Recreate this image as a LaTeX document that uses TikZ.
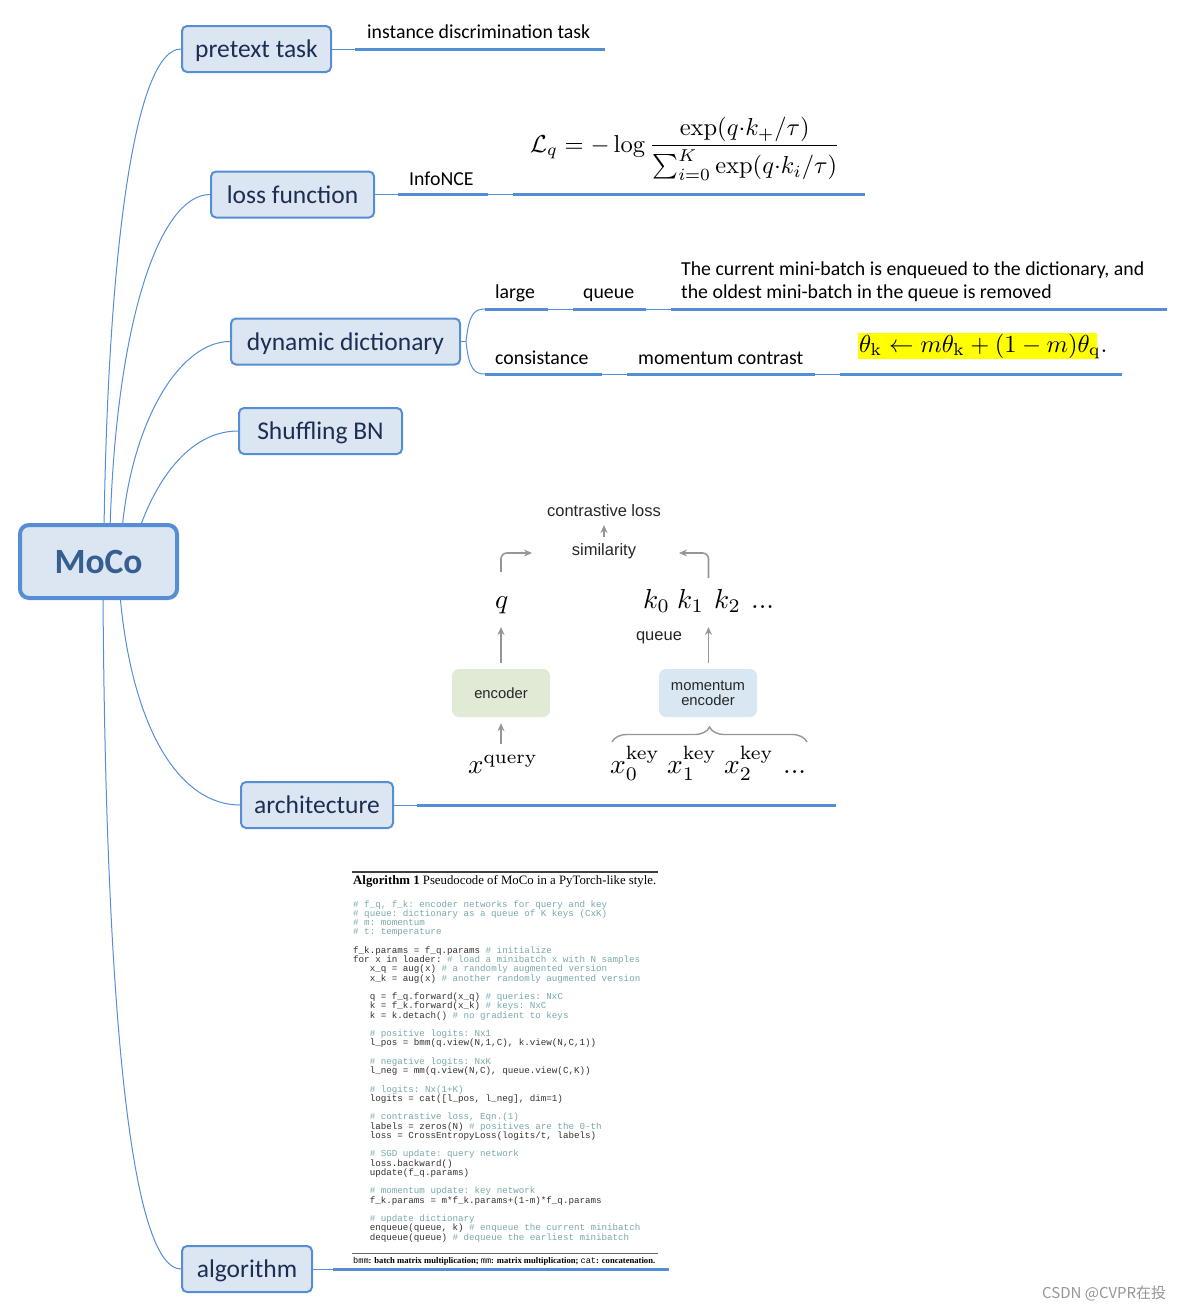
\documentclass[tikz,border=0pt]{standalone}
\usepackage[no-math]{fontspec}
\usepackage{graphicx}
\usepackage{amsmath}
\setmainfont{Carlito}
\setsansfont{Liberation Sans}
\setmonofont{Liberation Mono}
\newfontfamily\timesfont{Liberation Serif}
\newfontfamily\cjkfont{Noto Sans CJK SC}
\usetikzlibrary{arrows.meta,decorations.pathreplacing}
\pgfdeclarelayer{background}
\pgfsetlayers{background,main}
\definecolor{mmblue}{RGB}{85,142,213}
\definecolor{mmfill}{RGB}{220,230,242}
\definecolor{mmtext}{RGB}{28,46,84}
\definecolor{mocotext}{RGB}{54,95,145}
\definecolor{archgray}{RGB}{150,150,150}
\definecolor{encgreen}{RGB}{225,234,213}
\definecolor{encblue}{RGB}{217,231,242}
\definecolor{codegray}{RGB}{50,50,50}
\definecolor{commentc}{RGB}{120,168,172}
\definecolor{wmgray}{RGB}{150,150,150}
\definecolor{hlyellow}{RGB}{255,255,0}
\newcommand\cmt[1]{\textcolor{commentc}{#1}}
\newcommand\codeind{\hspace*{16.6pt}}
\newcommand\codefont{\fontsize{9.2}{9.25}\selectfont\ttfamily}
\tikzset{
  root/.style={draw=mmblue, line width=4pt, fill=mmfill, rounded corners=9pt,
    minimum width=157pt, minimum height=73pt, inner sep=0pt, text=mocotext,
    font=\fontsize{35.5}{40}\selectfont\bfseries},
  topic/.style={draw=mmblue, line width=2pt, fill=mmfill, rounded corners=5pt,
    minimum height=46pt, inner sep=0pt, text=mmtext, font=\fontsize{25.5}{30}\selectfont,
    text height=17pt, text depth=0pt},
  conn/.style={draw=mmblue, line width=1pt},
  uline/.style={draw=mmblue, line width=3pt},
  sub/.style={inner sep=0pt, anchor=base west, font=\fontsize{19.8}{23}\selectfont, text=black},
  arch/.style={inner sep=0pt, font=\sffamily\fontsize{16.5}{19}\selectfont, text=black!85},
  garrow/.style={draw=archgray, line width=1.6pt, -{Stealth[length=8pt,width=7pt]}},
  encbox/.style={rounded corners=7pt, minimum width=98pt, minimum height=48pt, inner sep=0pt,
    font=\sffamily\fontsize{14.8}{16}\selectfont, align=center, text=black!85},
  mathnode/.style={inner sep=0pt, anchor=base west},
}
\begin{document}
\begin{tikzpicture}[x=1pt,y=-1pt]
\useasboundingbox (0,0) rectangle (1185,1310);

% ---------- root and topics ----------
\node[root] (moco) at (98.5,561.5) {MoCo};
\node[topic, minimum width=149pt] (pretext) at (256.5,49) {pretext task};
\node[topic, minimum width=163pt] (loss) at (292.5,194.5) {loss function};
\node[topic, minimum width=229pt] (dyn) at (345.5,341.5) {dynamic dictionary};
\node[topic, minimum width=163pt] (shuf) at (320.5,431) {Shuffling BN};
\node[topic, minimum width=152pt] (archi) at (317,805) {architecture};
\node[topic, minimum width=130pt] (algo) at (247,1269) {algorithm};

\coordinate (r1) at (104,530);
\coordinate (r2) at (110,530);
\coordinate (r3) at (122,530);
\coordinate (r4) at (139,530);
\coordinate (r5) at (120,595);
\coordinate (r6) at (103,595);

\begin{pgfonlayer}{background}
\draw[conn] (r1) .. controls (108,250) and (135,49) .. (pretext.west);
\draw[conn] (r2) .. controls (116,320) and (160,194.5) .. (loss.west);
\draw[conn] (r3) .. controls (132,420) and (180,341.5) .. (dyn.west);
\draw[conn] (r4) .. controls (160,470) and (195,431) .. (shuf.west);
\draw[conn] (r5) .. controls (132,730) and (180,805) .. (archi.west);
\draw[conn] (r6) .. controls (106,1050) and (135,1269) .. (algo.west);
\end{pgfonlayer}

% ---------- pretext task ----------
\coordinate (p1) at (355,49);
\coordinate (p2) at (605,49);
\draw[conn] (pretext.east) -- (p1);
\draw[uline] (p1) -- (p2);
\node[sub] (itask) at (367,38) {instance discrimination task};

% ---------- loss function ----------
\coordinate (l1) at (398,194.5);
\coordinate (l2) at (488,194.5);
\coordinate (l3) at (513,194.5);
\coordinate (l4) at (865,194.5);
\draw[conn] (loss.east) -- (l1);
\draw[uline] (l1) -- (l2);
\draw[conn] (l2) -- (l3);
\draw[uline] (l3) -- (l4);
\node[sub] (infonce) at (409,185) {InfoNCE};
\node[mathnode] (lossf) at (530,152)
  {\scalebox{2.45}{$\displaystyle \mathcal{L}_q = -\log \frac{\exp(q{\cdot}k_{+}/\tau)}{\sum_{i=0}^{K}\exp(q{\cdot}k_i/\tau)}$}};

% ---------- dynamic dictionary ----------
\coordinate (dj) at (466,341.5);
\coordinate (dt0) at (485,309);
\coordinate (dt1) at (548,309);
\coordinate (dt2) at (573,309);
\coordinate (dt3) at (646,309);
\coordinate (dt4) at (671,309);
\coordinate (dt5) at (1167,309);
\coordinate (db0) at (485,374);
\coordinate (db1) at (602,374);
\coordinate (db2) at (627,374);
\coordinate (db3) at (815,374);
\coordinate (db4) at (840,374);
\coordinate (db5) at (1122,374);
\draw[conn] (dyn.east) -- (dj);
\draw[conn] (dj) .. controls (469,314) and (474,309) .. (dt0);
\draw[conn] (dj) .. controls (469,369) and (474,374) .. (db0);
\draw[uline] (dt0) -- (dt1);
\draw[conn] (dt1) -- (dt2);
\draw[uline] (dt2) -- (dt3);
\draw[conn] (dt3) -- (dt4);
\draw[uline] (dt4) -- (dt5);
\draw[uline] (db0) -- (db1);
\draw[conn] (db1) -- (db2);
\draw[uline] (db2) -- (db3);
\draw[conn] (db3) -- (db4);
\draw[uline] (db4) -- (db5);
\node[sub] (large) at (495,298) {large};
\node[sub] (queue) at (583,298) {queue};
\node[sub] (enq1) at (681,275) {The current mini-batch is enqueued to the dictionary, and};
\node[sub] (enq2) at (681,298) {the oldest mini-batch in the queue is removed};
\node[sub] (consis) at (495,364) {consistance};
\node[sub] (momc) at (638,364) {momentum contrast};
\fill[hlyellow] (858,333) rectangle (1097,358.5);
\node[mathnode] (thetaf) at (859,352)
  {\scalebox{2.45}{$\theta_{\mathrm{k}} \leftarrow m\theta_{\mathrm{k}} + (1-m)\theta_{\mathrm{q}}.$}};

% ---------- architecture ----------
\coordinate (a1) at (417,805);
\coordinate (a2) at (836,805);
\draw[conn] (archi.east) -- (a1);
\draw[uline] (a1) -- (a2);

\node[arch] (closs) at (604,511) {contrastive loss};
\node[arch] (sim) at (604,551) {similarity};
\node[arch] (qlab) at (659,638) {queue};
\node[mathnode] (qn) at (495,608) {\scalebox{2.75}{$q$}};
\node[mathnode] (k0) at (643,608) {\scalebox{2.75}{$k_0$}};
\node[mathnode] (k1) at (677,608) {\scalebox{2.75}{$k_1$}};
\node[mathnode] (k2) at (714,608) {\scalebox{2.75}{$k_2$}};
\node[mathnode] (kd) at (751,608) {\scalebox{2.75}{$...$}};
\node[encbox, fill=encgreen] (enc) at (501,693) {encoder};
\node[encbox, fill=encblue] (menc) at (708,693) {momentum\\[-1pt]encoder};
\node[mathnode] (xq) at (468,773) {\scalebox{2.7}{$x^{\mathrm{query}}$}};
\node[mathnode] (xk0) at (610,773) {\scalebox{2.75}{$x_0^{\mathrm{key}}$}};
\node[mathnode] (xk1) at (667,773) {\scalebox{2.75}{$x_1^{\mathrm{key}}$}};
\node[mathnode] (xk2) at (724,773) {\scalebox{2.75}{$x_2^{\mathrm{key}}$}};
\node[mathnode] (xd) at (783,773) {\scalebox{2.75}{$...$}};

\coordinate (qa) at (501,627);
\coordinate (ka) at (708.5,627);
\coordinate (xqa) at (501,744);
\coordinate (sa1) at (604,537);
\coordinate (sa2) at (604,525);
\coordinate (qe1) at (501,572);
\coordinate (qe2) at (532,553);
\coordinate (ke1) at (708.5,578);
\coordinate (ke2) at (679,553);
\coordinate (bl) at (612,742);
\coordinate (br) at (807,742);
\draw[garrow, shorten <=6pt] (enc.north) -- (qa);
\draw[garrow, shorten <=6pt] (menc.north -| ka) -- (ka);
\draw[garrow, shorten >=6pt] (xqa) -- (enc.south);
\draw[garrow] (sa1) -- (sa2);
\draw[garrow, rounded corners=6pt] (qe1) |- (qe2);
\draw[garrow, rounded corners=6pt] (ke1) |- (ke2);
\draw[archgray, line width=1.4pt, decorate, decoration={brace, amplitude=15pt}] (bl) -- (br);

% ---------- algorithm ----------
\coordinate (g1) at (333,1269);
\coordinate (g2) at (669,1269);
\draw[conn] (algo.east) -- (g1);
\draw[uline] (g1) -- (g2);

\coordinate (t1) at (352,872);
\coordinate (t2) at (658,872);
\coordinate (b1) at (352,1253);
\coordinate (b2) at (658,1253);
\draw[line width=1.3pt, black!75] (t1) -- (t2);
\draw[line width=0.8pt, black!60] (b1) -- (b2);
\node[inner sep=0pt, anchor=base west, font=\timesfont\fontsize{12.8}{14}\selectfont] (cap) at (353,884)
  {\textbf{Algorithm 1} Pseudocode of MoCo in a PyTorch-like style.};
\node[inner sep=0pt, anchor=north west, align=left, font=\codefont, text=codegray] (code) at (353,899)
{\rule{0pt}{8pt}\cmt{\# f\_q, f\_k: encoder networks for query and key}\\
\cmt{\# queue: dictionary as a queue of K keys (CxK)}\\
\cmt{\# m: momentum}\\
\cmt{\# t: temperature}\\
\mbox{}\\
f\_k.params = f\_q.params \cmt{\# initialize}\\
for x in loader: \cmt{\# load a minibatch x with N samples}\\
\codeind x\_q = aug(x) \cmt{\# a randomly augmented version}\\
\codeind x\_k = aug(x) \cmt{\# another randomly augmented version}\\
\mbox{}\\
\codeind q = f\_q.forward(x\_q) \cmt{\# queries: NxC}\\
\codeind k = f\_k.forward(x\_k) \cmt{\# keys: NxC}\\
\codeind k = k.detach() \cmt{\# no gradient to keys}\\
\mbox{}\\
\codeind\cmt{\# positive logits: Nx1}\\
\codeind l\_pos = bmm(q.view(N,1,C), k.view(N,C,1))\\
\mbox{}\\
\codeind\cmt{\# negative logits: NxK}\\
\codeind l\_neg = mm(q.view(N,C), queue.view(C,K))\\
\mbox{}\\
\codeind\cmt{\# logits: Nx(1+K)}\\
\codeind logits = cat([l\_pos, l\_neg], dim=1)\\
\mbox{}\\
\codeind\cmt{\# contrastive loss, Eqn.(1)}\\
\codeind labels = zeros(N) \cmt{\# positives are the 0-th}\\
\codeind loss = CrossEntropyLoss(logits/t, labels)\\
\mbox{}\\
\codeind\cmt{\# SGD update: query network}\\
\codeind loss.backward()\\
\codeind update(f\_q.params)\\
\mbox{}\\
\codeind\cmt{\# momentum update: key network}\\
\codeind f\_k.params = m*f\_k.params+(1-m)*f\_q.params\\
\mbox{}\\
\codeind\cmt{\# update dictionary}\\
\codeind enqueue(queue, k) \cmt{\# enqueue the current minibatch}\\
\codeind dequeue(queue) \cmt{\# dequeue the earliest minibatch}};
\node[inner sep=0pt, anchor=base west, font=\timesfont\fontsize{9}{10}\selectfont\bfseries] (foot) at (353,1263)
  {\resizebox{302pt}{!}{{\mdseries\ttfamily bmm}: batch matrix multiplication; {\mdseries\ttfamily mm}: matrix multiplication; {\mdseries\ttfamily cat}: concatenation.}};

% ---------- watermark ----------
\node[inner sep=0pt, anchor=base west, text=wmgray, font=\cjkfont\fontsize{15}{18}\selectfont] (wm) at (1042,1298) {CSDN @CVPR在投};
\end{tikzpicture}
\end{document}
